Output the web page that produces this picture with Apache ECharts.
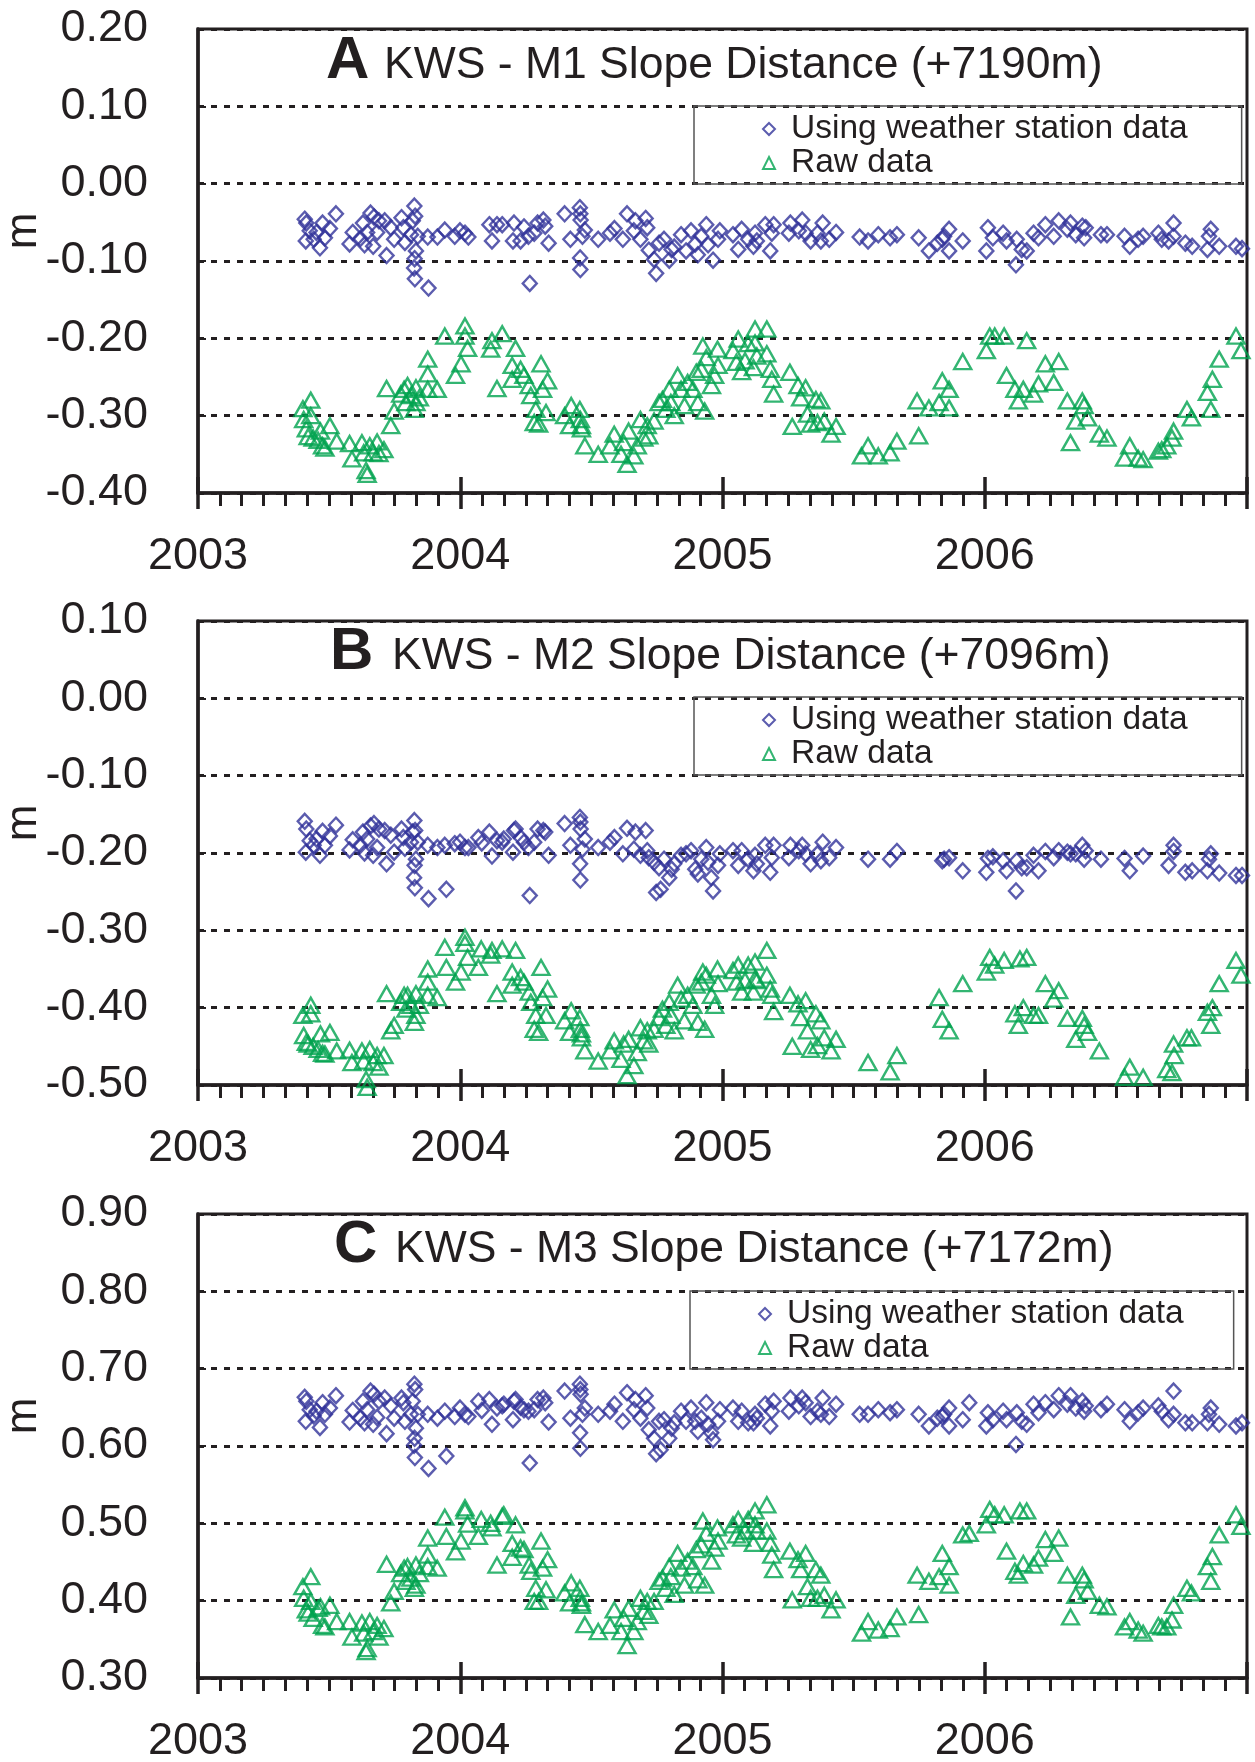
<!DOCTYPE html>
<html lang="en">
  <head>
    <meta charset="UTF-8" />
    <title>KWS slope distance</title>
    <script src="https://cdn.jsdelivr.net/npm/echarts@6/dist/echarts.min.js"></script>
  </head>
  <style>
    html,
    body {
      margin: 0;
      padding: 0;
      background: #fff;
    }
    #chart {
      width: 1255px;
      height: 1762px;
    }
  </style>
  <body>
    <div id="chart"></div>
  </body>
  <script>
    // measurement dates (decimal year) shared by the three panels
    const wsDates = [
      2003.407, 2003.413, 2003.426, 2003.411, 2003.441, 2003.465, 2003.475, 2003.484, 2003.503, 2003.526,
      2003.452, 2003.578, 2003.59, 2003.619, 2003.629, 2003.635, 2003.645, 2003.658, 2003.671, 2003.668,
      2003.683, 2003.69, 2003.712, 2003.719, 2003.735, 2003.748, 2003.776, 2003.783, 2003.789, 2003.812,
      2003.819, 2003.825, 2003.828, 2003.831, 2003.826, 2003.824, 2003.827, 2003.838, 2003.876, 2003.879,
      2003.913, 2003.941, 2003.947, 2003.979, 2003.999, 2004.018, 2004.031, 2004.069, 2004.082, 2004.111,
      2004.121, 2004.14, 2004.16, 2004.166, 2004.201, 2004.205, 2004.211, 2004.23, 2004.243, 2004.26,
      2004.265, 2004.282, 2004.295, 2004.317, 2004.324, 2004.337, 2004.398, 2004.42, 2004.456, 2004.458,
      2004.459, 2004.475, 2004.466, 2004.457, 2004.458, 2004.526, 2004.571, 2004.588, 2004.62, 2004.636,
      2004.662, 2004.668, 2004.687, 2004.707, 2004.713, 2004.719, 2004.739, 2004.747, 2004.764, 2004.758,
      2004.777, 2004.797, 2004.806, 2004.816, 2004.842, 2004.861, 2004.88, 2004.896, 2004.906, 2004.919,
      2004.938, 2004.945, 2004.957, 2004.964, 2004.983, 2004.99, 2005.04, 2005.06, 2005.073, 2005.098,
      2005.118, 2005.124, 2005.131, 2005.163, 2005.182, 2005.188, 2005.195, 2005.253, 2005.259, 2005.291,
      2005.304, 2005.317, 2005.336, 2005.362, 2005.375, 2005.382, 2005.407, 2005.433, 2005.523, 2005.555,
      2005.594, 2005.639, 2005.665, 2005.748, 2005.787, 2005.819, 2005.838, 2005.845, 2005.864, 2005.864,
      2005.916, 2005.941, 2006.006, 2006.012, 2006.031, 2006.07, 2006.083, 2006.122, 2006.119, 2006.141,
      2006.16, 2006.186, 2006.205, 2006.231, 2006.263, 2006.282, 2006.315, 2006.327, 2006.347, 2006.372,
      2006.385, 2006.379, 2006.443, 2006.466, 2006.533, 2006.553, 2006.585, 2006.604, 2006.662, 2006.675,
      2006.701, 2006.72, 2006.72, 2006.765, 2006.791, 2006.849, 2006.862, 2006.855, 2006.894, 2006.958, 2006.981,
    ];
    const wsA = [
      -0.046, -0.051, -0.061, -0.074, -0.072, -0.083, -0.051, -0.07, -0.058, -0.039,
      -0.063, -0.078, -0.063, -0.071, -0.051, -0.079, -0.063, -0.038, -0.043, -0.081,
      -0.063, -0.048, -0.048, -0.093, -0.057, -0.072, -0.044, -0.057, -0.076, -0.066,
      -0.048, -0.029, -0.042, -0.087, -0.097, -0.109, -0.123, -0.068, -0.069, -0.135,
      -0.069, -0.06, null, -0.068, -0.061, -0.064, -0.069, null, null, -0.053,
      -0.074, -0.053, -0.053, null, -0.074, -0.051, null, -0.074, -0.056, -0.068,
      -0.129, -0.064, -0.051, -0.047, -0.055, -0.077, -0.039, -0.072, -0.031, -0.039,
      -0.047, -0.06, -0.068, -0.096, -0.111, -0.072, -0.064, -0.058, -0.072, -0.039,
      -0.061, -0.048, -0.072, -0.045, -0.057, -0.086, -0.098, -0.116, null, -0.077,
      -0.072, -0.099, -0.085, -0.082, -0.066, -0.087, -0.061, -0.078, -0.092, -0.068,
      -0.053, -0.079, null, -0.099, -0.072, -0.061, -0.066, -0.085, -0.059, -0.072,
      -0.081, -0.064, -0.074, -0.053, -0.087, -0.064, -0.053, -0.064, -0.051, -0.061,
      -0.047, -0.064, -0.074, -0.064, -0.074, -0.051, -0.072, -0.063, -0.069, -0.074,
      -0.066, -0.07, -0.066, -0.07, -0.087, -0.077, -0.072, -0.068, -0.059, -0.087,
      -0.074, null, -0.087, -0.057, -0.07, -0.064, -0.074, -0.072, -0.105, -0.085,
      -0.087, -0.064, -0.07, -0.053, -0.068, -0.048, -0.059, -0.051, -0.066, -0.055,
      -0.057, -0.07, -0.066, -0.066, -0.068, -0.081, -0.072, -0.068, -0.064, -0.072,
      -0.074, -0.051, -0.068, -0.077, -0.081, -0.085, -0.059, -0.068, -0.081, -0.081, -0.084,
    ];
    const wsB = [
      -0.159, -0.169, -0.184, -0.199, -0.19, -0.203, -0.172, -0.19, -0.178, -0.164,
      -0.182, -0.196, -0.183, -0.19, -0.173, -0.2, -0.182, -0.165, -0.162, -0.203,
      -0.193, -0.169, -0.171, -0.214, -0.177, -0.199, -0.169, -0.18, -0.194, -0.186,
      -0.173, -0.158, -0.171, -0.208, -0.216, -0.232, -0.245, -0.186, -0.19, -0.259,
      -0.193, -0.19, -0.247, -0.188, -0.186, -0.193, -0.193, -0.18, -0.187, -0.173,
      -0.204, -0.184, -0.186, -0.182, -0.199, -0.171, -0.169, -0.18, -0.186, -0.193,
      -0.255, -0.186, -0.169, -0.171, -0.173, -0.203, -0.162, -0.19, -0.154, -0.16,
      -0.169, -0.182, -0.195, -0.214, -0.235, -0.193, -0.186, -0.18, -0.201, -0.168,
      -0.195, -0.173, -0.203, -0.171, -0.197, -0.206, -0.212, -0.251, -0.247, -0.219,
      -0.208, -0.232, -0.221, -0.214, -0.203, -0.201, -0.197, -0.221, -0.227, -0.208,
      -0.193, -0.212, -0.232, -0.249, -0.216, -0.201, -0.197, -0.216, -0.197, -0.208,
      -0.223, -0.203, -0.214, -0.19, -0.225, -0.206, -0.19, -0.206, -0.19, -0.197,
      -0.19, -0.201, -0.214, -0.201, -0.21, -0.186, -0.206, -0.193, null, -0.208,
      null, -0.208, -0.198, null, null, null, -0.21, -0.208, -0.206, null,
      -0.223, null, -0.225, -0.207, -0.205, -0.21, -0.223, -0.21, -0.249, -0.219,
      -0.219, -0.203, -0.223, -0.198, -0.206, -0.197, -0.199, -0.201, -0.201, -0.19,
      -0.197, -0.208, -0.208, null, -0.207, -0.223, null, -0.204, null, null,
      -0.216, -0.19, -0.198, -0.225, -0.223, -0.223, -0.201, -0.208, -0.226, -0.229, -0.229,
    ];
    const wsC = [
      0.663, 0.658, 0.647, 0.632, 0.639, 0.624, 0.656, 0.641, 0.649, 0.665,
      0.645, 0.631, 0.646, 0.636, 0.658, 0.63, 0.647, 0.671, 0.667, 0.628,
      0.637, 0.658, 0.662, 0.616, 0.652, 0.636, 0.662, 0.656, 0.632, 0.641,
      0.658, 0.68, 0.673, 0.623, 0.61, 0.601, 0.585, 0.641, 0.641, 0.571,
      0.636, 0.645, 0.587, 0.638, 0.649, 0.641, 0.638, 0.658, 0.646, 0.66,
      0.628, 0.649, 0.652, 0.654, 0.634, 0.658, 0.66, 0.65, 0.647, 0.645,
      0.578, 0.647, 0.66, 0.662, 0.656, 0.631, 0.671, 0.636, 0.68, 0.673,
      0.667, 0.649, 0.641, 0.617, 0.597, 0.641, 0.645, 0.654, 0.632, 0.669,
      0.647, 0.66, 0.636, 0.665, 0.649, 0.621, 0.61, 0.59, 0.595, 0.632,
      0.634, 0.61, 0.623, 0.63, 0.645, 0.632, 0.649, 0.632, 0.619, 0.636,
      0.656, 0.628, 0.617, 0.608, 0.632, 0.647, 0.649, 0.632, 0.645, 0.63,
      0.63, 0.641, 0.636, 0.654, 0.626, 0.645, 0.658, 0.645, 0.662, 0.652,
      0.662, 0.656, 0.638, 0.645, 0.641, 0.662, 0.638, 0.654, 0.641, 0.641,
      0.647, 0.643, 0.647, 0.641, 0.626, 0.636, 0.638, 0.641, 0.649, 0.626,
      0.634, 0.656, 0.626, 0.643, 0.634, 0.645, 0.634, 0.643, 0.602, 0.632,
      0.628, 0.654, 0.643, 0.656, 0.647, 0.665, 0.654, 0.665, 0.649, 0.658,
      0.652, 0.645, 0.647, 0.654, 0.647, 0.632, 0.643, 0.649, 0.652, 0.645,
      0.634, 0.671, 0.641, 0.63, 0.63, 0.63, 0.649, 0.641, 0.628, 0.626, 0.63,
    ];

    const rawDates = [
      2003.4, 2003.43, 2003.43, 2003.403, 2003.413, 2003.42, 2003.439, 2003.458, 2003.467, 2003.475,
      2003.484, 2003.503, 2003.529, 2003.578, 2003.587, 2003.625, 2003.632, 2003.641, 2003.645, 2003.655,
      2003.668, 2003.683, 2003.69, 2003.709, 2003.719, 2003.735, 2003.748, 2003.773, 2003.786, 2003.793,
      2003.799, 2003.812, 2003.825, 2003.831, 2003.831, 2003.844, 2003.876, 2003.876, 2003.876, 2003.912,
      2003.941, 2003.947, 2003.982, 2004.003, 2004.018, 2004.018, 2004.028, 2004.069, 2004.08, 2004.116,
      2004.121, 2004.16, 2004.166, 2004.14, 2004.211, 2004.198, 2004.198, 2004.23, 2004.243, 2004.263,
      2004.269, 2004.282, 2004.288, 2004.299, 2004.308, 2004.314, 2004.327, 2004.333, 2004.398, 2004.423,
      2004.417, 2004.456, 2004.458, 2004.462, 2004.462, 2004.475, 2004.526, 2004.571, 2004.587, 2004.613,
      2004.623, 2004.636, 2004.642, 2004.662, 2004.675, 2004.687, 2004.7, 2004.713, 2004.719, 2004.739,
      2004.758, 2004.771, 2004.784, 2004.797, 2004.803, 2004.816, 2004.829, 2004.842, 2004.855, 2004.867,
      2004.887, 2004.9, 2004.906, 2004.919, 2004.925, 2004.938, 2004.932, 2004.958, 2004.97, 2004.981,
      2004.983, 2005.04, 2005.06, 2005.053, 2005.073, 2005.086, 2005.098, 2005.118, 2005.124, 2005.124,
      2005.131, 2005.169, 2005.169, 2005.182, 2005.188, 2005.195, 2005.257, 2005.266, 2005.288, 2005.298,
      2005.317, 2005.324, 2005.336, 2005.356, 2005.362, 2005.375, 2005.388, 2005.414, 2005.433, 2005.53,
      2005.555, 2005.594, 2005.639, 2005.665, 2005.742, 2005.748, 2005.787, 2005.826, 2005.838, 2005.864,
      2005.864, 2005.916, 2005.941, 2006.006, 2006.019, 2006.038, 2006.074, 2006.134, 2006.16, 2006.083,
      2006.115, 2006.128, 2006.147, 2006.186, 2006.205, 2006.231, 2006.263, 2006.282, 2006.315, 2006.327,
      2006.347, 2006.372, 2006.379, 2006.392, 2006.437, 2006.466, 2006.533, 2006.553, 2006.585, 2006.604,
      2006.662, 2006.675, 2006.694, 2006.714, 2006.72, 2006.722, 2006.771, 2006.788, 2006.849, 2006.862,
      2006.868, 2006.894, 2006.958, 2006.977,
    ];
    const rawA = [
      -0.291, -0.28, -0.3, -0.305, -0.317, -0.327, -0.329, -0.332, -0.32, -0.339,
      -0.342, -0.313, -0.333, -0.336, -0.356, -0.335, -0.348, -0.371, -0.376, -0.339,
      -0.348, -0.334, -0.349, -0.344, -0.265, -0.313, -0.294, -0.272, -0.266, -0.283,
      -0.261, -0.274, -0.292, -0.264, -0.283, -0.277, -0.227, -0.246, -0.266, -0.266,
      -0.197, null, -0.248, -0.233, -0.184, -0.197, -0.213, null, null, -0.214,
      -0.203, -0.194, null, -0.265, -0.213, -0.235, -0.253, -0.24, -0.248, -0.261,
      -0.274, -0.309, -0.292, -0.311, -0.233, -0.266, -0.296, -0.255, -0.3, -0.287,
      -0.313, -0.292, -0.305, -0.313, -0.317, -0.339, -0.35, -0.339, -0.324, -0.35,
      -0.335, -0.363, -0.32, -0.352, -0.339, -0.305, -0.329, -0.313, -0.326, -0.307,
      -0.283, -0.279, -0.292, -0.266, -0.283, -0.3, -0.248, -0.266, -0.287, -0.257,
      -0.266, -0.244, -0.283, -0.24, -0.21, -0.225, -0.294, -0.261, -0.248, -0.214,
      -0.235, -0.216, -0.201, -0.231, -0.243, -0.229, -0.207, -0.238, -0.188, -0.206,
      -0.223, -0.188, -0.22, -0.24, -0.253, -0.272, -0.244, -0.314, -0.261, -0.277,
      -0.264, -0.298, -0.311, -0.279, -0.309, -0.281, -0.307, -0.324, -0.314, -0.352,
      -0.339, -0.352, -0.348, -0.333, -0.281, -0.326, -0.29, -0.283, -0.255, -0.266,
      -0.29, -0.23, null, -0.216, -0.197, -0.197, -0.197, null, -0.203, -0.248,
      -0.266, -0.281, -0.266, -0.272, -0.259, -0.233, -0.257, -0.23, -0.281, -0.335,
      -0.307, -0.281, -0.287, -0.303, -0.324, -0.329, -0.355, -0.339, -0.355, -0.357,
      -0.346, -0.344, -0.339, -0.329, -0.32, null, -0.292, -0.303, -0.27, -0.292,
      -0.253, -0.227, -0.197, -0.216,
    ];
    const rawB = [
      -0.41, -0.397, -0.408, -0.436, -0.445, -0.447, -0.45, -0.454, -0.434, -0.459,
      -0.46, -0.432, -0.456, -0.455, -0.471, -0.456, -0.469, -0.493, -0.503, -0.454,
      -0.471, -0.462, -0.477, -0.462, -0.382, -0.43, -0.423, -0.393, -0.384, -0.402,
      -0.384, -0.397, -0.419, -0.382, -0.41, -0.397, -0.35, -0.367, -0.384, -0.387,
      -0.322, -0.348, -0.367, -0.354, -0.309, -0.317, -0.335, -0.348, -0.324, -0.332,
      -0.326, -0.324, null, -0.382, -0.326, -0.354, -0.371, -0.361, -0.367, -0.38,
      -0.393, -0.428, -0.41, -0.432, -0.348, -0.387, -0.41, -0.376, -0.417, -0.404,
      -0.432, -0.413, -0.428, -0.434, -0.439, -0.456, -0.469, -0.456, -0.443, -0.467,
      -0.447, -0.488, -0.441, -0.475, -0.458, -0.426, -0.443, -0.43, -0.447, -0.428,
      -0.413, -0.402, -0.423, -0.393, -0.41, -0.43, -0.371, -0.389, -0.417, -0.384,
      -0.397, -0.371, -0.419, -0.367, -0.354, -0.358, -0.428, -0.384, -0.397, -0.35,
      -0.369, -0.352, -0.345, -0.367, -0.38, -0.365, -0.345, -0.38, -0.341, -0.363,
      -0.365, -0.326, -0.358, -0.376, -0.384, -0.405, -0.384, -0.45, -0.395, -0.413,
      -0.391, -0.43, -0.454, -0.408, -0.449, -0.417, -0.439, -0.456, -0.441, null,
      -0.471, null, -0.483, -0.462, null, null, null, -0.387, -0.415, null,
      -0.43, -0.369, null, -0.354, -0.335, -0.345, -0.339, -0.337, -0.335, null,
      -0.408, -0.423, -0.4, -0.41, -0.41, -0.369, -0.389, -0.378, -0.414, null,
      -0.441, -0.414, -0.423, -0.432, -0.456, null, -0.49, -0.477, null, -0.49,
      null, null, -0.48, -0.484, -0.447, -0.462, -0.439, -0.439, -0.406, -0.423,
      -0.4, -0.369, -0.339, -0.358,
    ];
    const rawC = [
      0.418, 0.431, 0.399, 0.403, 0.388, 0.384, 0.377, 0.39, 0.392, 0.368,
      0.366, 0.394, 0.373, 0.373, 0.353, 0.371, 0.358, 0.334, 0.338, 0.373,
      0.36, 0.368, 0.353, 0.364, 0.447, 0.397, 0.412, 0.435, 0.442, 0.425,
      0.444, 0.429, 0.416, 0.446, 0.42, 0.435, 0.481, 0.459, 0.444, 0.442,
      0.508, 0.483, 0.463, 0.477, 0.52, 0.516, 0.499, 0.483, 0.505, 0.5,
      0.494, 0.509, 0.511, 0.446, 0.498, 0.474, 0.456, 0.468, 0.466, 0.446,
      0.438, 0.399, 0.416, 0.399, 0.477, 0.442, 0.414, 0.453, 0.41, 0.423,
      0.397, 0.416, 0.403, 0.397, 0.394, 0.369, 0.36, 0.368, 0.388, 0.36,
      0.377, 0.342, 0.39, 0.36, 0.373, 0.403, 0.386, 0.399, 0.381, 0.399,
      0.425, 0.429, 0.416, 0.444, 0.431, 0.408, 0.461, 0.442, 0.42, 0.451,
      0.444, 0.466, 0.427, 0.472, 0.503, 0.487, 0.42, 0.451, 0.468, 0.494,
      0.477, 0.498, 0.505, 0.485, 0.481, 0.49, 0.505, 0.474, 0.516, 0.498,
      0.49, 0.524, 0.49, 0.474, 0.459, 0.44, 0.464, 0.401, 0.453, 0.44,
      0.461, 0.418, 0.403, 0.44, 0.403, 0.433, 0.407, 0.388, 0.401, 0.358,
      0.373, 0.362, 0.364, 0.379, 0.433, 0.382, 0.425, 0.431, 0.461, 0.444,
      0.42, 0.485, 0.487, 0.498, 0.518, 0.511, 0.511, 0.516, 0.516, 0.464,
      0.438, 0.433, 0.448, 0.446, 0.455, 0.479, 0.461, 0.481, 0.433, 0.379,
      0.407, 0.433, 0.427, 0.412, 0.394, 0.392, 0.366, 0.373, 0.362, 0.358,
      0.368, 0.366, 0.366, 0.375, 0.394, null, 0.416, 0.41, 0.444, 0.425,
      0.457, 0.485, 0.511, 0.496,
    ];

    const yearTicks = [2003, 2004, 2005, 2006];
    const wsName = "Using weather station data";
    const rawName = "Raw data";

    const INK = "#231f20";
    const BLUE = "#32339a";
    const GREEN = "#00a24f";
    const FONT = "Liberation Sans, Arial, sans-serif";

    const panels = [
      { letter: "A", text: "KWS - M1 Slope Distance (+7190m)", min: -0.4, max: 0.2, ws: wsA, raw: rawA,
        top: 29, letterX: 326, textX: 384, legendX: 694, legendTop: 106, legendPadR: 54, base: 79 },
      { letter: "B", text: "KWS - M2 Slope Distance (+7096m)", min: -0.5, max: 0.1, ws: wsB, raw: rawB,
        top: 621, letterX: 330, textX: 392, legendX: 694, legendTop: 697, legendPadR: 54, base: 670 },
      { letter: "C", text: "KWS - M3 Slope Distance (+7172m)", min: 0.3, max: 0.9, ws: wsC, raw: rawC,
        top: 1214, letterX: 334, textX: 395, legendX: 690, legendTop: 1291, legendPadR: 50, base: 1263 },
    ];
    const plotH = 464;

    const pair = (xs, ys) => xs.map((x, i) => [x, ys[i]]).filter((d) => d[1] !== null);

    const chart = echarts.init(document.getElementById("chart"));

    const option = {
      animation: false,
      textStyle: { fontFamily: FONT, color: INK },
      title: [],
      legend: [],
      grid: [],
      xAxis: [],
      yAxis: [],
      series: [],
    };

    panels.forEach((p, i) => {
      option.title.push(
        {
          text: p.letter, left: p.letterX, top: p.base - 48, padding: 0,
          textStyle: { fontFamily: FONT, fontSize: 60, lineHeight: 60, fontWeight: "bold", color: INK },
        },
        {
          text: p.text, left: p.textX, top: p.base - 35, padding: 0,
          textStyle: { fontFamily: FONT, fontSize: 44.5, lineHeight: 44, fontWeight: "normal", color: INK },
        }
      );

      option.legend.push({
        orient: "vertical",
        left: p.legendX,
        top: p.legendTop,
        itemWidth: 12,
        itemHeight: 12,
        itemGap: 0,
        padding: [6, p.legendPadR, 4, 68],
        borderColor: "#555",
        borderWidth: 1.5,
        selectedMode: false,
        textStyle: { fontFamily: FONT, fontSize: 33.5, lineHeight: 34, color: INK, padding: [0, 0, 0, 11] },
        data: [wsName, rawName],
      });

      option.grid.push({
        left: 198, right: 8, top: p.top, height: plotH,
        outerBoundsMode: "none",
        show: true, borderColor: INK, borderWidth: 3,
      });

      // main x axis: labels, outside ticks and monthly minor ticks
      option.xAxis.push({
        type: "value", gridIndex: i, position: "bottom",
        min: 2003, max: 2007, interval: 1,
        axisLine: { show: true, onZero: false, lineStyle: { color: INK, width: 3.5 } },
        axisTick: { show: true, inside: false, length: 16, lineStyle: { color: INK, width: 3.5 } },
        minorTick: { show: true, splitNumber: 12, length: 13, lineStyle: { color: INK, width: 3 } },
        axisLabel: {
          fontSize: 45, color: INK, margin: 41, fontFamily: FONT,
          formatter: (v) => (yearTicks.includes(v) ? String(v) : ""),
        },
        splitLine: { show: false },
      });
      // second x axis only for the inner half of the year ticks
      option.xAxis.push({
        type: "value", gridIndex: i, position: "bottom",
        min: 2003, max: 2007, interval: 1,
        axisLine: { show: false, onZero: false },
        axisTick: { show: true, inside: true, length: 16, lineStyle: { color: INK, width: 3.5 } },
        axisLabel: { show: false },
        splitLine: { show: false },
      });

      option.yAxis.push({
        type: "value", gridIndex: i,
        min: p.min, max: p.max, interval: 0.1,
        axisLine: { show: true, onZero: false, lineStyle: { color: INK, width: 3.5 } },
        axisTick: { show: true, inside: true, length: 8, lineStyle: { color: INK, width: 2 } },
        axisLabel: {
          fontSize: 45, color: INK, margin: 50, fontFamily: FONT,
          formatter: (v) => (Math.abs(v) < 1e-9 ? "0.00" : v.toFixed(2)),
        },
        splitLine: { show: true, lineStyle: { color: INK, width: 3, type: [6, 7] } },
        name: "m",
        nameLocation: "middle",
        nameGap: 152,
        nameMoveOverlap: false,
        nameTextStyle: { fontSize: 44, color: INK, fontFamily: FONT, padding: [0, 0, 0, 60] },
      });

      option.series.push(
        {
          type: "scatter", name: wsName, xAxisIndex: i * 2, yAxisIndex: i,
          symbol: "diamond", symbolSize: [14, 15], clip: false, silent: true,
          itemStyle: { color: "rgba(0,0,0,0)", borderColor: BLUE, borderWidth: 2.4 },
          data: pair(wsDates, p.ws),
        },
        {
          type: "scatter", name: rawName, xAxisIndex: i * 2, yAxisIndex: i,
          symbol: "triangle", symbolSize: [17, 15], clip: false, silent: true,
          itemStyle: { color: "rgba(0,0,0,0)", borderColor: GREEN, borderWidth: 2.4 },
          data: pair(rawDates, p.raw),
        }
      );
    });

    chart.setOption(option);
  </script>
</html>
